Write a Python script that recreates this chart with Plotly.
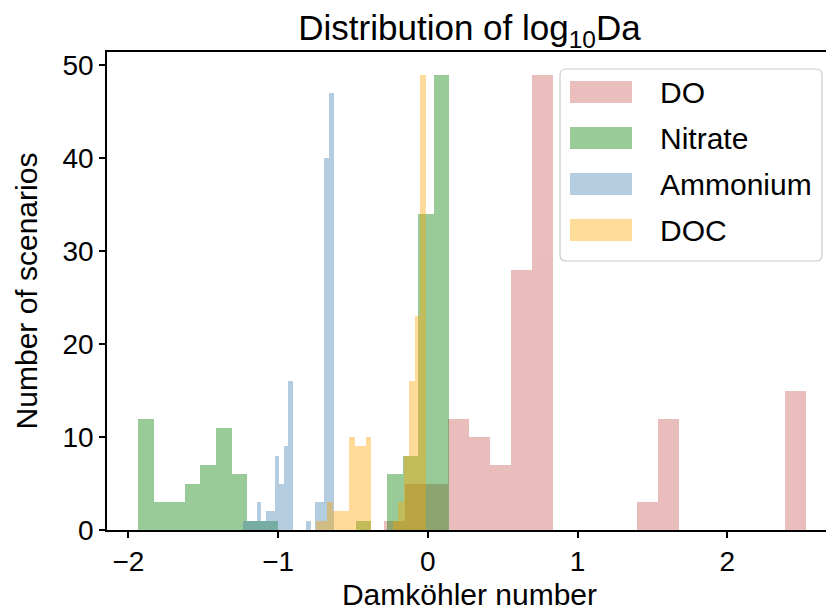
import numpy as np
import plotly.graph_objects as go

# ---- data (histogram counts) ----
series_names = ["DO", "Nitrate", "Ammonium", "DOC"]

do_range = (-0.290, 2.525)
do_counts = [1, 5, 5, 12, 10, 7, 28, 49, 0, 0, 0, 0, 3, 12, 0, 0, 0, 0, 0, 15]

nitrate_range = (-1.934, 0.143)
nitrate_counts = [12, 3, 3, 5, 7, 11, 6, 1, 1, 0, 0, 0, 0, 0, 1, 0, 6, 8, 34, 49]

ammonium_range = (-1.232, -0.630)
ammonium_counts = [1, 1, 1, 3, 1, 2, 2, 8, 5, 9, 16, 0, 0, 0, 1, 0, 3, 3, 40, 47]

doc_range = (-0.745, -0.0134)
doc_counts = [1, 1, 3, 2, 2, 2, 10, 9, 9, 10, 0, 0, 0, 0, 1, 3, 8, 16, 23, 49]

x_ticks = [-2, -1, 0, 1, 2]
x_tick_labels = ["\u22122", "\u22121", "0", "1", "2"]
y_ticks = [0, 10, 20, 30, 40, 50]

colors = ["indianred", "green", "steelblue", "orange"]
ALPHA = 0.4

FONT = "Liberation Sans, Arial, sans-serif"

# The page adds an 8px body margin, so the figure is 8px smaller than the window.
OFF = 8
W, H = 834 - OFF, 614 - OFF
L, R, T, B = 107 - OFF, 2, 52 - OFF, 84
PW, PH = W - L - R, H - T - B

fig = go.Figure()
for name, rng, counts, col in zip(
    series_names,
    [do_range, nitrate_range, ammonium_range, doc_range],
    [do_counts, nitrate_counts, ammonium_counts, doc_counts],
    colors,
):
    edges = np.linspace(rng[0], rng[1], len(counts) + 1)
    centers = (edges[:-1] + edges[1:]) / 2
    width = edges[1] - edges[0]
    fig.add_trace(go.Bar(
        x=centers, y=counts, width=width, name=name,
        marker=dict(color=col, line=dict(width=0)),
        opacity=ALPHA, showlegend=False,
    ))

# ---- matplotlib-style legend box (positions given in window pixels) ----
def px_x(px):
    return (px - OFF - L) / PW

def px_y(py):
    return (H - B - (py - OFF)) / PH

bx0, bx1, by_top, by_bot = px_x(560), px_x(822), px_y(69), px_y(261)
rx, ry = 6 / PW, 6 / PH
box_path = (
    f"M {bx0+rx},{by_bot} L {bx1-rx},{by_bot} Q {bx1},{by_bot} {bx1},{by_bot+ry} "
    f"L {bx1},{by_top-ry} Q {bx1},{by_top} {bx1-rx},{by_top} "
    f"L {bx0+rx},{by_top} Q {bx0},{by_top} {bx0},{by_top-ry} "
    f"L {bx0},{by_bot+ry} Q {bx0},{by_bot} {bx0+rx},{by_bot} Z"
)
shapes = [dict(type="path", xref="paper", yref="paper", path=box_path,
               fillcolor="rgba(255,255,255,0.8)", line=dict(color="#cccccc", width=1.2))]
annotations = []
row_px = [92, 138, 184, 230]
for name, col, rp in zip(series_names, colors, row_px):
    shapes.append(dict(type="rect", xref="paper", yref="paper",
                       x0=px_x(570), x1=px_x(632), y0=px_y(rp + 11), y1=px_y(rp - 11),
                       fillcolor=col, opacity=ALPHA, line=dict(width=0)))
    annotations.append(dict(xref="paper", yref="paper", x=px_x(658), y=px_y(rp),
                            xanchor="left", yanchor="middle", text=name, showarrow=False,
                            font=dict(size=30, family=FONT, color="black")))

fig.update_layout(
    width=W, height=H,
    barmode="overlay", bargap=0,
    plot_bgcolor="white", paper_bgcolor="white",
    margin=dict(l=L, r=R, t=T, b=B),
    font=dict(family=FONT, size=28, color="black"),
    showlegend=False,
    title=dict(text="Distribution of log<sub>10</sub>Da", x=(L + PW / 2) / W, xanchor="center",
               y=1 - (28 - OFF) / H, yanchor="middle", font=dict(size=35)),
    xaxis=dict(range=[-2.143, 2.70], tickvals=x_ticks, ticktext=x_tick_labels,
               ticks="outside", ticklen=6, tickwidth=1.5, tickcolor="black",
               tickfont=dict(size=28),
               showline=True, linecolor="black", linewidth=1.5, mirror=True,
               showgrid=False, zeroline=False, automargin=False,
               title=dict(text="Damköhler number", standoff=8, font=dict(size=30))),
    yaxis=dict(range=[0, 51.45], tickvals=y_ticks,
               ticks="outside", ticklen=6, tickwidth=1.5, tickcolor="black",
               tickfont=dict(size=28),
               showline=True, linecolor="black", linewidth=1.5, mirror=True,
               showgrid=False, zeroline=False, automargin=False,
               title=dict(text="Number of scenarios", standoff=16, font=dict(size=30))),
    shapes=shapes,
    annotations=annotations,
)

fig.write_html("out.html")
